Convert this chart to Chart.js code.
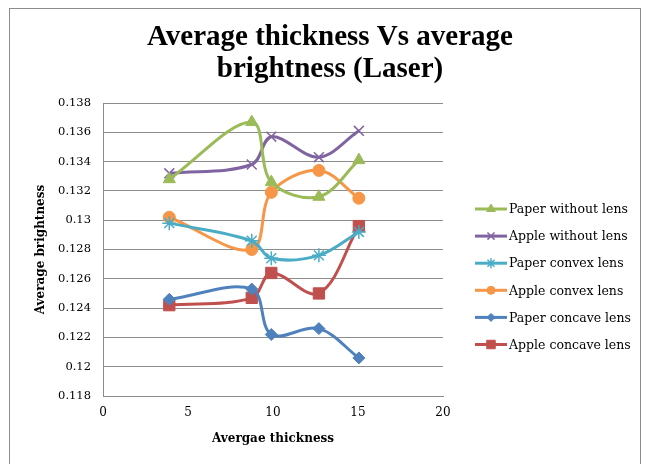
<!DOCTYPE html>
<html>
<head>
<meta charset="utf-8">
<script src="https://cdn.jsdelivr.net/npm/chart.js@4.4.0/dist/chart.umd.min.js"></script>
<style>
  html, body { margin: 0; padding: 0; background: #fff; }
  #wrap { position: relative; width: 652px; height: 464px; }
</style>
</head>
<body>
<div id="wrap"><canvas id="mainChart" width="652" height="464"></canvas></div>
<script>
// --- Data ---
const thickness = [3.9, 8.75, 9.9, 12.7, 15.05];
const paperWithoutLens = [0.1328, 0.1367, 0.1326, 0.1316, 0.1341];
const appleWithoutLens = [0.1332, 0.1338, 0.1357, 0.1343, 0.1361];
const paperConvexLens  = [0.1298, 0.1286, 0.1274, 0.1276, 0.1292];
const appleConvexLens  = [0.1302, 0.1280, 0.1319, 0.1334, 0.1315];
const paperConcaveLens = [0.1246, 0.1253, 0.1222, 0.1226, 0.1206];
const appleConcaveLens = [0.1242, 0.1247, 0.1264, 0.1250, 0.1296];
const xTicks = [0, 5, 10, 15, 20];
const yMin = 0.118, yMax = 0.138, yStep = 0.002;

const SERIF = '"Liberation Serif", serif';
const SMALL = '"DejaVu Serif", serif';

function pts(ys) {
  return ys.map((y, i) => ({ x: thickness[i], y }));
}

function series(label, ys, color, style, radius) {
  return {
    label,
    data: pts(ys),
    borderColor: color,
    backgroundColor: color,
    borderWidth: 3,
    pointStyle: style,
    pointRadius: radius,
    pointBorderWidth: style === 'crossRot' || style === 'star' ? 1.5 : 1,
    tension: 0.35,
    fill: false
  };
}

const datasets = [
  series('Paper without lens', paperWithoutLens, '#9BBB59', 'triangle', 7),
  series('Apple without lens', appleWithoutLens, '#8064A2', 'crossRot', 7),
  series('Paper convex lens', paperConvexLens, '#4BACC6', 'star', 7),
  series('Apple convex lens', appleConvexLens, '#F79646', 'circle', 6),
  series('Paper concave lens', paperConcaveLens, '#4F81BD', 'rectRot', 6),
  series('Apple concave lens', appleConcaveLens, '#C0504D', 'rect', 8)
];

// frame + title + legend drawn on the canvas
const decor = {
  id: 'decor',
  beforeDraw(chart) {
    const ctx = chart.ctx;
    ctx.save();
    ctx.fillStyle = '#fff';
    ctx.fillRect(0, 0, chart.width, chart.height);
    ctx.strokeStyle = '#8c8c8c';
    ctx.lineWidth = 1;
    ctx.strokeRect(9.5, 8.5, 631, 470);
    ctx.restore();
  },
  afterDraw(chart) {
    const ctx = chart.ctx;
    ctx.save();
    ctx.fillStyle = '#000';
    ctx.textAlign = 'center';
    ctx.textBaseline = 'middle';
    ctx.font = 'bold 29px ' + SERIF;
    ctx.fillText('Average thickness Vs average', 330, 38);
    ctx.fillText('brightness (Laser)', 330, 70);

    // legend
    const x0 = 475, x1 = 507, y0 = 209, gap = 27.1;
    ctx.textAlign = 'left';
    ctx.font = '12.5px ' + SMALL;
    chart.data.datasets.forEach((ds, i) => {
      const y = y0 + i * gap;
      ctx.strokeStyle = ds.borderColor;
      ctx.lineWidth = 3;
      ctx.beginPath();
      ctx.moveTo(x0, y);
      ctx.lineTo(x1, y);
      ctx.stroke();
      ctx.fillStyle = ds.backgroundColor;
      ctx.lineWidth = ds.pointBorderWidth;
      Chart.helpers.drawPoint(ctx, { pointStyle: ds.pointStyle, radius: ds.pointRadius - 2, rotation: 0, borderWidth: ds.pointBorderWidth }, (x0 + x1) / 2, y);
      ctx.fillStyle = '#000';
      ctx.fillText(ds.label, x1 + 2, y + 1);
    });
    ctx.restore();
  }
};

new Chart(document.getElementById('mainChart').getContext('2d'), {
  type: 'line',
  data: { datasets },
  options: {
    responsive: false,
    animation: false,
    layout: { padding: { top: 103, right: 209, bottom: 0, left: 0 } },
    plugins: {
      legend: { display: false },
      title: { display: false },
      tooltip: { enabled: false }
    },
    scales: {
      x: {
        type: 'linear',
        min: 0,
        max: 20,
        afterBuildTicks: s => { s.ticks = xTicks.map(v => ({ value: v })); },
        afterFit: s => { s.height = 68; },
        grid: { display: false, drawTicks: false },
        border: { display: true, color: '#8c8c8c', width: 1 },
        ticks: { color: '#000', padding: 10, font: { family: SMALL, size: 12 }, maxRotation: 0 },
        title: {
          display: true,
          text: 'Avergae thickness',
          color: '#000',
          font: { family: SMALL, size: 12, weight: 'bold' },
          padding: { top: 0, bottom: 18 }
        }
      },
      y: {
        min: yMin,
        max: yMax,
        afterFit: s => { s.width = 103; },
        grid: { color: '#8c8c8c', drawTicks: false },
        border: { display: true, color: '#8c8c8c', width: 1 },
        ticks: {
          stepSize: yStep,
          color: '#000',
          padding: 12,
          font: { family: SMALL, size: 11.5 },
          callback: v => String(Number(v.toFixed(3)))
        },
        title: {
          display: true,
          text: 'Average brightness',
          color: '#000',
          font: { family: SMALL, size: 12, weight: 'bold' },
          padding: { top: 34, bottom: 0 }
        }
      }
    }
  },
  plugins: [decor]
});
</script>
</body>
</html>
